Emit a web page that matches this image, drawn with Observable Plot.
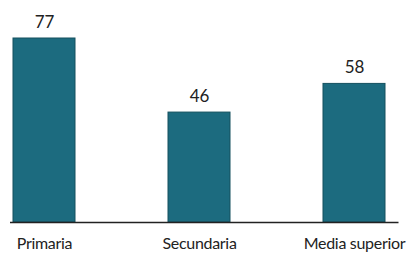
<!DOCTYPE html>
<html>
<head>
<meta charset="utf-8">
<script src="https://cdn.jsdelivr.net/npm/d3@7"></script>
<script src="https://cdn.jsdelivr.net/npm/@observablehq/plot@0.6"></script>
<style>
  html, body { margin: 0; padding: 0; background: #fff; }
  #chart { width: 409px; height: 255px; }
  #chart svg g[aria-label="x-axis tick label"] text { letter-spacing: -0.3px; }
</style>
</head>
<body>
<div id="chart"></div>
<script>
const categories = ["Primaria", "Secundaria", "Media superior"];
const values = [77, 46, 58];

const data = categories.map((c, i) => ({category: c, value: values[i]}));

const chart = Plot.plot({
  width: 409,
  height: 255,
  marginLeft: 12.5,
  marginRight: 24.5,
  marginTop: 38,
  marginBottom: 33,
  style: {fontFamily: "Lato, sans-serif", fontSize: "16px", color: "#222", background: "#fff"},
  x: {domain: categories, paddingInner: 0.6, paddingOuter: 0, align: 0.5, label: null, tickSize: 0, tickPadding: 15},
  y: {domain: [0, 77], axis: null},
  marks: [
    Plot.barY(data, {x: "category", y: "value", fill: "#1c6b7f", stroke: "#14505f", strokeWidth: 1}),
    Plot.ruleY([0], {stroke: "#222", strokeWidth: 1.3, insetLeft: -2.5, insetRight: -14}),
    Plot.text(data, {x: "category", y: "value", text: d => String(d.value), lineAnchor: "bottom", dy: -11, fontSize: 17, fill: "#222"})
  ]
});
document.getElementById("chart").appendChild(chart);
</script>
</body>
</html>
